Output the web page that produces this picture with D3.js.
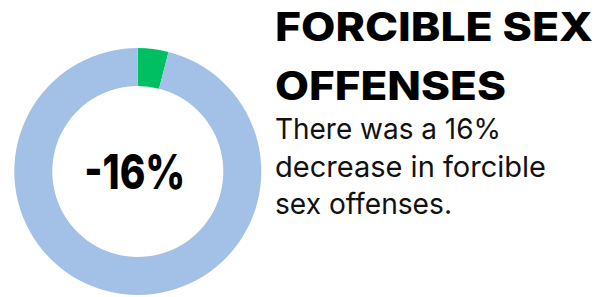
<!DOCTYPE html>
<html>
<head>
<meta charset="utf-8">
<script src="https://cdn.jsdelivr.net/npm/d3@7"></script>
<style>
  html, body { margin: 0; padding: 0; background: #fff; }
  svg { display: block; }
</style>
</head>
<body>
<div class="res"></div>
<script>
// data
const categories = ['Change', 'Rest'];
const values = [4, 96];
const colors = ['#00bf63', '#a3c1e6'];
const centerLabel = '-16%';
const titleLines = ['FORCIBLE SEX', 'OFFENSES'];
const bodyLines = ['There was a 16%', 'decrease in forcible', 'sex offenses.'];

const width = 614, height = 297;

// text widths (Montserrat is wider than what we have)
const titleWidths = [318, 231];
const bodyWidths = [226, 271, 177];

const svg = d3.select('div.res')
    .append('svg')
    .attr('width', width)
    .attr('height', height);

/**
 * DONUT
 */
const cx = 137.8, cy = 171.5;
const outerR = 123.5, innerR = 85.5;

const pie = d3.pie().sort(null).value(d => d.value);
const arc = d3.arc().innerRadius(innerR).outerRadius(outerR);

const slices = categories.map((c, i) => ({ name: c, value: values[i], color: colors[i] }));

const g = svg.append('g')
    .attr('transform', `translate(${cx}, ${cy})`);

g.selectAll('path')
    .data(pie(slices))
    .enter().append('path')
    .attr('d', arc)
    .attr('fill', d => d.data.color);

g.append('text')
    .attr('x', -53.5)
    .attr('y', 17.5)
    .attr('textLength', 101)
    .attr('lengthAdjust', 'spacingAndGlyphs')
    .style('font-family', 'Inter, "Open Sans", sans-serif')
    .style('font-weight', 800)
    .style('font-size', '48px')
    .attr('fill', '#000')
    .text(centerLabel);

/**
 * TITLE + TEXT
 */
const tx = 275;
svg.append('g').selectAll('text')
    .data(titleLines)
    .enter().append('text')
    .attr('x', tx)
    .attr('y', (d, i) => 41 + i * 58.5)
    .attr('textLength', (d, i) => titleWidths[i])
    .attr('lengthAdjust', 'spacingAndGlyphs')
    .style('font-family', 'Inter, "Open Sans", sans-serif')
    .style('font-weight', 800)
    .style('font-size', '40px')
    .attr('fill', '#000')
    .text(d => d);

svg.append('g').selectAll('text')
    .data(bodyLines)
    .enter().append('text')
    .attr('x', tx)
    .attr('y', (d, i) => 139 + i * 37.5)
    .attr('textLength', (d, i) => bodyWidths[i])
    .attr('lengthAdjust', 'spacingAndGlyphs')
    .style('font-family', 'Inter, "Open Sans", sans-serif')
    .style('font-weight', 400)
    .style('font-size', '29px')
    .attr('fill', '#111')
    .text(d => d);
</script>
</body>
</html>
